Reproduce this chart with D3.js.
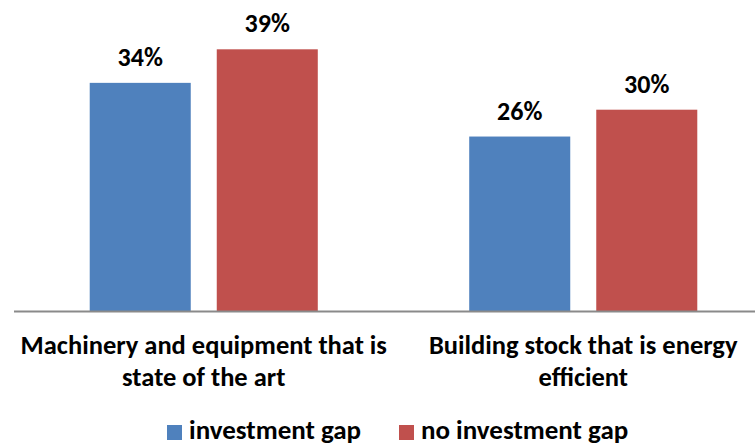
<!DOCTYPE html>
<html>
<head>
<meta charset="utf-8">
<script src="https://cdn.jsdelivr.net/npm/d3@7"></script>
<style>
  html, body { margin: 0; padding: 0; background: #fff; }
  svg { display: block; }
  text { font-family: Carlito, Lato, "Open Sans", sans-serif; font-weight: bold; fill: #000; }
</style>
</head>
<body>
<svg id="chart" width="755" height="443"></svg>
<script>
const categories = [
  ["Machinery and equipment that is", "state of the art"],
  ["Building stock that is energy", "efficient"]
];
const seriesNames = ["investment gap", "no investment gap"];
const investmentGap = [34, 26];
const noInvestmentGap = [39, 30];
const colors = ["#4F81BD", "#C0504D"];

const svg = d3.select("#chart");
const W = 755, H = 443;
const baseY = 311;

const catIdx = categories.map((c, i) => i);
const x0 = d3.scaleBand().domain(catIdx).range([14, 773]).paddingInner(0).paddingOuter(0);
const x1 = d3.scaleBand().domain([0, 1]).range([0, x0.bandwidth()]).paddingInner(0.2047).paddingOuter(0.596);
const y = d3.scaleLinear().domain([0, 40]).range([baseY, baseY - 40 * 6.71]);

const series = [investmentGap, noInvestmentGap];
const data = [];
catIdx.forEach(ci => series.forEach((s, si) => data.push({ ci, si, v: s[ci] })));

const g = svg.append("g");
g.selectAll("rect.bar").data(data).enter().append("rect")
  .attr("class", "bar")
  .attr("x", d => x0(d.ci) + x1(d.si))
  .attr("width", x1.bandwidth())
  .attr("y", d => y(d.v))
  .attr("height", d => y(0) - y(d.v))
  .attr("fill", d => colors[d.si]);

// value labels above each bar
g.selectAll("text.val").data(data).enter().append("text")
  .attr("class", "val")
  .attr("x", d => x0(d.ci) + x1(d.si) + x1.bandwidth() / 2)
  .attr("y", d => y(d.v) - 17)
  .attr("text-anchor", "middle")
  .style("font-size", "26px")
  .text(d => d.v + "%");

// category axis line
svg.append("line")
  .attr("x1", 14).attr("x2", W)
  .attr("y1", baseY + 0.5).attr("y2", baseY + 0.5)
  .attr("stroke", "#8a8a8a").attr("stroke-width", 2);

// two-line category labels
const lab = svg.selectAll("text.cat").data(catIdx).enter().append("text")
  .attr("class", "cat")
  .attr("text-anchor", "middle")
  .style("font-size", "26.5px");
lab.each(function(ci) {
  const t = d3.select(this);
  const cx = x0(ci) + x0.bandwidth() / 2;
  categories[ci].forEach((line, li) => {
    t.append("tspan").attr("x", cx).attr("y", 354 + li * 32).text(line);
  });
});

// legend
const legend = svg.append("g");
const legX = [167, 399];
seriesNames.forEach((name, i) => {
  legend.append("rect").attr("x", legX[i]).attr("y", 425).attr("width", 15).attr("height", 15).attr("fill", colors[i]);
  legend.append("text").attr("x", legX[i] + 22).attr("y", 439).style("font-size", "27px").text(name);
});
</script>
</body>
</html>
